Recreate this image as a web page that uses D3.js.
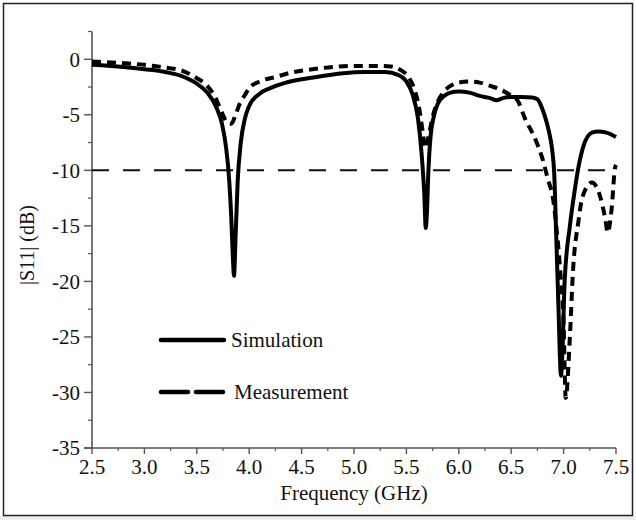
<!DOCTYPE html>
<html><head><meta charset="utf-8">
<script src="https://cdn.jsdelivr.net/npm/d3@7"></script>
<style>
html,body{margin:0;padding:0;background:#fff;}
svg{display:block;}
text{font-family:"Liberation Serif","Times New Roman",serif;fill:#111;}
</style></head>
<body>
<script>
// Data (frequency in GHz, |S11| in dB)
const simFreq = [2.5,2.8,3.0,3.2,3.35,3.5,3.6,3.68,3.74,3.78,3.81,3.83,3.845,3.855,3.87,3.89,3.92,3.96,4.0,4.1,4.2,4.35,4.5,4.7,4.9,5.1,5.3,5.42,5.5,5.56,5.61,5.645,5.67,5.685,5.695,5.71,5.73,5.76,5.8,5.86,5.92,6.0,6.1,6.2,6.3,6.36,6.42,6.5,6.6,6.7,6.75,6.79,6.82,6.86,6.89,6.91,6.93,6.95,6.975,6.99,7.01,7.06,7.1,7.14,7.19,7.27,7.33,7.41,7.5];
const simS11  = [-0.5,-0.7,-0.9,-1.15,-1.5,-2.2,-3.0,-4.2,-5.8,-8,-11,-14.5,-18,-19.5,-16,-11,-7.5,-5.3,-4.2,-3.1,-2.6,-2.1,-1.8,-1.5,-1.25,-1.15,-1.15,-1.4,-2.0,-3.2,-5.3,-8.5,-12,-15.2,-14,-10,-7,-5.2,-4.0,-3.3,-3.0,-2.9,-3.0,-3.3,-3.5,-3.7,-3.5,-3.4,-3.4,-3.45,-3.6,-4.3,-5.1,-6.5,-8.1,-10.2,-16,-22,-28.5,-26,-20,-15,-12.2,-9.8,-7.8,-6.6,-6.5,-6.6,-7.0];
const measFreq = [2.5,2.8,3.0,3.2,3.35,3.5,3.6,3.68,3.74,3.79,3.83,3.87,3.91,3.96,4.0,4.1,4.25,4.4,4.6,4.8,5.0,5.2,5.35,5.45,5.52,5.58,5.62,5.655,5.68,5.71,5.75,5.8,5.86,5.92,6.0,6.1,6.2,6.3,6.39,6.47,6.56,6.63,6.73,6.8,6.85,6.9,6.93,6.97,7.0,7.02,7.06,7.09,7.14,7.18,7.27,7.35,7.4,7.42,7.46,7.49,7.5];
const measS11  = [-0.2,-0.35,-0.5,-0.75,-1.0,-1.7,-2.4,-3.5,-4.8,-5.7,-5.8,-5.0,-4.0,-3.2,-2.6,-2.0,-1.6,-1.2,-0.9,-0.7,-0.6,-0.6,-0.65,-1.0,-1.6,-2.8,-4.3,-6.5,-8.0,-7.0,-5.2,-3.8,-2.9,-2.4,-2.1,-2.0,-2.1,-2.4,-2.7,-3.1,-3.7,-5.3,-7.2,-9.0,-10.8,-12.6,-15,-19.3,-23.8,-30.5,-25,-19,-14.7,-12.4,-11.1,-12.4,-14.5,-15.6,-13.3,-9.8,-9.5];
const threshold = -10;
const xTicks = [2.5,3.0,3.5,4.0,4.5,5.0,5.5,6.0,6.5,7.0,7.5];
const yTicks = [0,-5,-10,-15,-20,-25,-30,-35];
const seriesNames = ["Simulation","Measurement"];

const W = 636, H = 520;
const svg = d3.select("body").append("svg").attr("width", W).attr("height", H);

svg.append("rect").attr("x",0).attr("y",516).attr("width",W).attr("height",4).attr("fill","#eeeeee");
svg.append("rect").attr("x",3.5).attr("y",3.5).attr("width",629).attr("height",512)
  .attr("fill","none").attr("stroke","#222").attr("stroke-width",1.5);

const x = d3.scaleLinear().domain([2.5,7.5]).range([92,616]);
const y = d3.scaleLinear().domain([-35,2.5]).range([448,31.5]);

const axisColor = "#555";
const fs = 21;
// y axis
const yMinor = d3.range(-35, 2.6, 2.5).filter(v => Math.abs(v % 5) > 0.01);
const yAxis = svg.append("g").attr("transform","translate(92,0)");
yAxis.append("line").attr("x1",0).attr("x2",0).attr("y1",y(2.5)).attr("y2",y(-35))
  .attr("stroke",axisColor).attr("stroke-width",1.6);
yAxis.selectAll(".maj").data(yTicks).join("line")
  .attr("x1",-8).attr("x2",0).attr("y1",d=>y(d)).attr("y2",d=>y(d))
  .attr("stroke",axisColor).attr("stroke-width",1.4);
yAxis.selectAll(".min").data(yMinor).join("line")
  .attr("x1",-4).attr("x2",0).attr("y1",d=>y(d)).attr("y2",d=>y(d))
  .attr("stroke",axisColor).attr("stroke-width",1.2);
yAxis.selectAll("text").data(yTicks).join("text")
  .attr("x",-12).attr("y",d=>y(d)).attr("dy","0.35em").attr("text-anchor","end")
  .attr("font-size",fs).text(d=>d);

// x axis
const xMinor = d3.range(2.75, 7.5, 0.5);
const xAxis = svg.append("g").attr("transform","translate(0,448)");
xAxis.append("line").attr("x1",x(2.5)-8).attr("x2",x(7.5)).attr("y1",0).attr("y2",0)
  .attr("stroke",axisColor).attr("stroke-width",1.6);
xAxis.selectAll(".maj").data(xTicks).join("line")
  .attr("x1",d=>x(d)).attr("x2",d=>x(d)).attr("y1",0).attr("y2",6)
  .attr("stroke",axisColor).attr("stroke-width",1.4);
xAxis.selectAll(".min").data(xMinor).join("line")
  .attr("x1",d=>x(d)).attr("x2",d=>x(d)).attr("y1",0).attr("y2",3)
  .attr("stroke",axisColor).attr("stroke-width",1.2);
xAxis.selectAll("text").data(xTicks).join("text")
  .attr("x",d=>x(d)).attr("y",26).attr("text-anchor","middle")
  .attr("font-size",fs).text(d=>d.toFixed(1));

// axis titles
svg.append("text").attr("x",354).attr("y",500).attr("text-anchor","middle")
  .attr("font-size",fs).text("Frequency (GHz)");
svg.append("text").attr("transform","translate(34,245) rotate(-90)")
  .attr("text-anchor","middle").attr("font-size",20).text("|S11| (dB)");

// threshold line
svg.append("line").attr("x1",x(2.5)).attr("x2",x(7.5)).attr("y1",y(threshold)).attr("y2",y(threshold))
  .attr("stroke","#111").attr("stroke-width",2).attr("stroke-dasharray","17,14");

const line = d3.line().x(d=>x(d[0])).y(d=>y(d[1])).curve(d3.curveMonotoneX);
const simData = simFreq.map((f,i)=>[f,simS11[i]]);
const measData = measFreq.map((f,i)=>[f,measS11[i]]);

svg.append("path").datum(measData).attr("d",line).attr("fill","none")
  .attr("stroke","#000").attr("stroke-width",4).attr("stroke-dasharray","9,6");
svg.append("path").datum(simData).attr("d",line).attr("fill","none")
  .attr("stroke","#000").attr("stroke-width",4).attr("stroke-linejoin","round");

// legend
const leg = svg.append("g");
leg.append("line").attr("x1",161).attr("x2",224).attr("y1",340).attr("y2",340)
  .attr("stroke","#000").attr("stroke-width",4.5).attr("stroke-linecap","round");
leg.append("text").attr("x",231).attr("y",340).attr("dy","0.35em").attr("font-size",fs).text(seriesNames[0]);
leg.append("line").attr("x1",161).attr("x2",228).attr("y1",392).attr("y2",392)
  .attr("stroke","#000").attr("stroke-width",4.5).attr("stroke-dasharray","27,8").attr("stroke-linecap","round");
leg.append("text").attr("x",234).attr("y",392).attr("dy","0.35em").attr("font-size",fs).text(seriesNames[1]);
</script>
</body></html>
